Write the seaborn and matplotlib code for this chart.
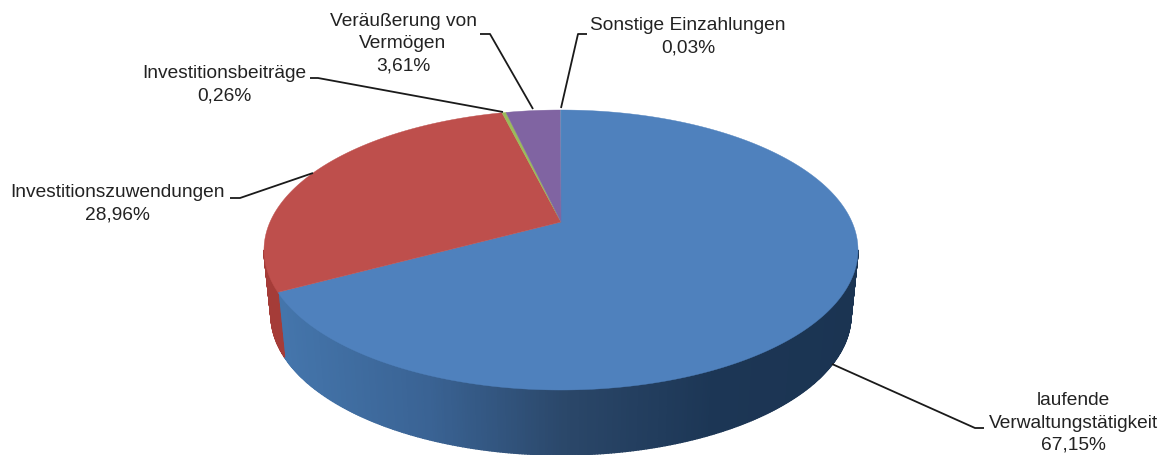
import matplotlib.pyplot as plt
import numpy as np
import seaborn as sns

# share of each item, clockwise from 12 o'clock
names = [
    "laufende\nVerwaltungstätigkeit",
    "Investitionszuwendungen",
    "Investitionsbeiträge",
    "Veräußerung von\nVermögen",
    "Sonstige Einzahlungen",
]
values = [67.15, 28.96, 0.26, 3.61, 0.03]
value_labels = ["67,15%", "28,96%", "0,26%", "3,61%", "0,03%"]
top_colors = ["#4f81bd", "#be4f4c", "#9bbb59", "#8064a2", "#4bacc6"]
side_colors = ["#2c4b70", "#a53c38", "#7d9a45", "#64497f", "#357f94"]

sns.set_theme(style="white")
plt.rcParams["font.family"] = ["Liberation Sans", "DejaVu Sans"]

fig = plt.figure(figsize=(11.63, 4.55), dpi=100)
ax = fig.add_axes([0, 0, 1, 1])
ax.set_xlim(0, 1163)
ax.set_ylim(455, 0)
ax.axis("off")

# pixel geometry of the tilted disc
cx, cy, rad, tilt, q = 561, 222, 291, 0.2, -90
mid_y, half_w, half_h = 250, 297, 140
low_y, low_w, low_h = 315, 290, 140


def project(ang):
    # ang in degrees clockwise from the top -> screen position on the disc rim
    u, v = np.sin(np.radians(ang)), np.cos(np.radians(ang))
    return cx + rad * u / (1 + tilt * v), (cy + q * v) / (1 + tilt * v)


def lower(x, y):
    return cx + (x - cx) * low_w / half_w, low_y + (y - mid_y) * low_h / half_h


edges = np.cumsum([0] + values) * 3.6
wall_blue = sns.blend_palette(["#4475ab", "#3a6394", "#2a4668", "#1c3655", "#1b3452"], 200)

# side wall, only the front half of the rim shows
for i in range(len(values)):
    angs = np.linspace(edges[i], edges[i + 1], max(2, int(values[i] * 8)))
    for a0, a1 in zip(angs[:-1], angs[1:]):
        x0, y0 = project(a0)
        x1, y1 = project(a1)
        if max(y0, y1) < mid_y:
            continue
        xb0, yb0 = lower(x0, y0)
        xb1, yb1 = lower(x1, y1)
        if i == 0:
            k = int(np.clip(((x0 + x1) / 2 - 280) / 580 * 199, 0, 199))
            col = wall_blue[k]
        else:
            col = side_colors[i]
        ax.fill([x0, x1, xb1, xb0], [y0, y1, yb1, yb0], color=col, lw=1.0, zorder=2)

# top face
for i in range(len(values)):
    angs = np.linspace(edges[i], edges[i + 1], max(3, int(values[i] * 8)))
    xs, ys = project(angs)
    ax.fill(np.r_[cx, xs], np.r_[cy, ys], facecolor=top_colors[i],
            edgecolor=top_colors[i], lw=0.3 if values[i] > 0.1 else 0, zorder=3)

# leader lines
leaders = [
    ([832, 975, 984], [364, 428, 428]),
    ([230, 240, 313], [198, 198, 173]),
    ([310, 318, 503], [78, 78, 112]),
    ([480, 490, 533], [34, 34, 109]),
    ([587, 578, 561], [34, 34, 108]),
]
for lx, ly in leaders:
    ax.plot(lx, ly, color="#1a1a1a", lw=1.3, zorder=4, solid_capstyle="butt")

# labels: centre x, centre y
label_pos = [(1073, 423), (117, 204), (224, 85), (403, 44), (688, 37)]
for name, val, (tx, ty) in zip(names, value_labels, label_pos):
    ax.text(tx, ty, name + "\n" + val, ha="center", va="center", fontsize=13.8,
            color="#222222", linespacing=1.4, zorder=5)

fig.savefig("out.png", dpi=100)
